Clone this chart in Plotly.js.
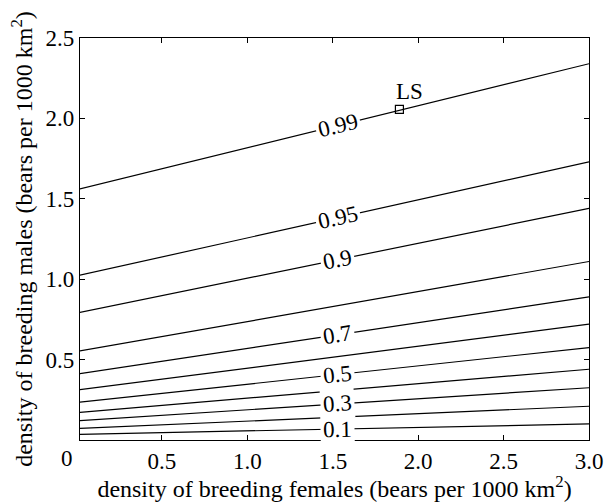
<!DOCTYPE html>
<html>
<head>
<meta charset="utf-8">
<script src="https://cdn.plot.ly/plotly-3.0.1.min.js"></script>
<style>html,body{margin:0;padding:0;background:#fff;}#chart{width:607px;height:502px;}</style>
</head>
<body>
<div id="chart"></div>
<script>
// contour levels and the male density where each contour meets x=0 and x=3
const levels = [0.99, 0.95, 0.9, 0.8, 0.7, 0.6, 0.5, 0.4, 0.3, 0.2, 0.1];
const yAtZero = [1.556, 1.02, 0.79, 0.55, 0.41, 0.31, 0.233, 0.17, 0.119, 0.071, 0.035];
const yAtThree = [2.34, 1.73, 1.44, 1.11, 0.89, 0.72, 0.575, 0.44, 0.325, 0.21, 0.10];
const xEnds = [0, 3];
const labelled = ["0.99", "0.95", "0.9", "0.7", "0.5", "0.3", "0.1"];
const lsPoint = {x: [1.89], y: [2.056], name: "LS"};
const xTicks = [0.5, 1.0, 1.5, 2.0, 2.5, 3.0];
const xTickText = ["0.5", "1.0", "1.5", "2.0", "2.5", "3.0"];
const yTicks = [0.5, 1.0, 1.5, 2.0, 2.5];
const yTickText = ["0.5", "1.0", "1.5", "2.0", "2.5"];

const FONT = "Liberation Serif, Times New Roman, serif";
const FS = 23;
const TFS = 24;
const xRange = [0.02, 3];
const yRange = [0, 2.5];
const W = 607, H = 502;
const M = {l: 80, r: 18, t: 38, b: 62};
const pw = W - M.l - M.r, ph = H - M.t - M.b;

const traces = levels.map((lv, i) => ({
  type: "scatter", mode: "lines",
  x: xEnds, y: [yAtZero[i], yAtThree[i]],
  line: {color: "#000", width: 1.2},
  hoverinfo: "skip", showlegend: false
}));
traces.push({
  type: "scatter", mode: "markers",
  x: lsPoint.x, y: lsPoint.y,
  marker: {symbol: "square-open", size: 8, color: "#000", line: {width: 1.2}},
  showlegend: false, cliponaxis: false
});

const annotations = [];
const labelX = 1.53;
levels.forEach((lv, i) => {
  const s = String(lv);
  if (!labelled.includes(s)) return;
  const y = yAtZero[i] + (yAtThree[i] - yAtZero[i]) * labelX / 3;
  const pxSlope = ((yAtThree[i] - yAtZero[i]) / (yRange[1] - yRange[0]) * ph) /
                  ((3 - 0) / (xRange[1] - xRange[0]) * pw);
  const ang = -Math.atan(pxSlope) * 180 / Math.PI;
  annotations.push({
    x: labelX, y: y, xref: "x", yref: "y", text: s, showarrow: false,
    textangle: ang, bgcolor: "#fff", borderpad: 2,
    font: {family: FONT, size: FS, color: "#000"}
  });
});
annotations.push({
  x: lsPoint.x[0] + 0.06, y: lsPoint.y[0], xref: "x", yref: "y", text: lsPoint.name,
  showarrow: false, yanchor: "bottom", yshift: 3,
  font: {family: FONT, size: FS, color: "#000"}
});
annotations.push({
  x: -0.025, y: 0, xref: "paper", yref: "paper", text: "0", showarrow: false,
  xanchor: "center", yanchor: "top", yshift: -4,
  font: {family: FONT, size: FS, color: "#000"}
});

const axisCommon = {
  showgrid: false, zeroline: false, showline: true, mirror: "ticks",
  linecolor: "#000", linewidth: 1.2, ticks: "inside", ticklen: 5,
  tickcolor: "#000", tickwidth: 1, tickfont: {family: FONT, size: FS, color: "#000"}
};

const layout = {
  width: W, height: H, margin: M,
  paper_bgcolor: "#fff", plot_bgcolor: "#fff",
  showlegend: false,
  xaxis: Object.assign({}, axisCommon, {
    range: xRange, tickvals: xTicks, ticktext: xTickText,
    title: {text: "density of breeding females (bears per 1000 km<sup>2</sup>)",
            font: {family: FONT, size: TFS, color: "#000"}, standoff: 4}
  }),
  yaxis: Object.assign({}, axisCommon, {
    range: yRange, tickvals: yTicks, ticktext: yTickText,
    title: {text: "density of breeding males (bears per 1000 km<sup>2</sup>)",
            font: {family: FONT, size: TFS, color: "#000"}, standoff: 6}
  }),
  annotations: annotations
};

Plotly.newPlot("chart", traces, layout, {displayModeBar: false, staticPlot: true});
</script>
</body>
</html>
